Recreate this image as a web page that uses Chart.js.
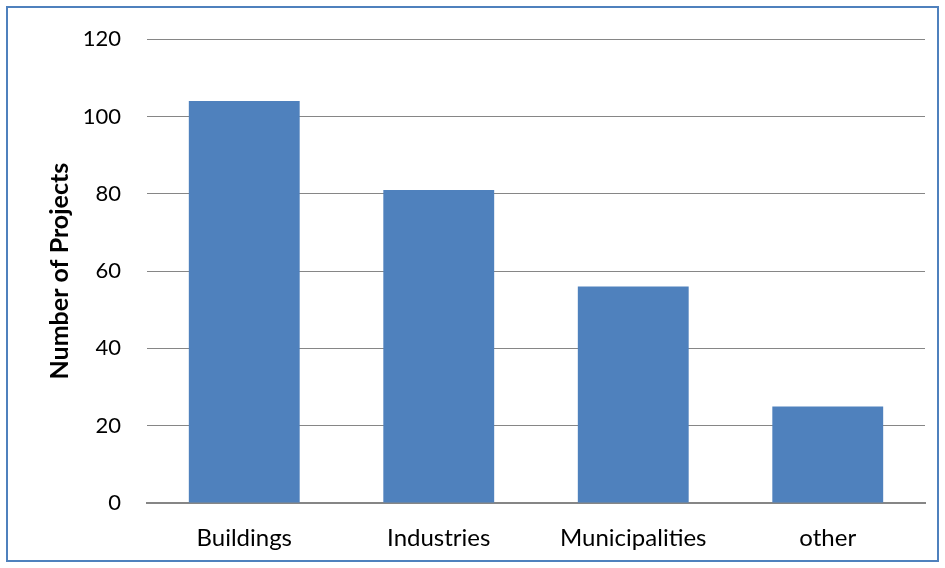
<!DOCTYPE html>
<html>
<head>
<meta charset="utf-8">
<script src="https://cdn.jsdelivr.net/npm/chart.js@4.4.0/dist/chart.umd.min.js"></script>
<style>
  html, body { margin: 0; padding: 0; background: #fff; }
  #wrap { width: 945px; height: 568px; position: relative; }
</style>
</head>
<body>
<div id="wrap"><canvas id="grafico"></canvas></div>
<script>
// sectores y numero de proyectos
const categorias = ['Buildings', 'Industries', 'Municipalities', 'other'];
const proyectos = [104, 81, 56, 25];
const ticksY = [0, 20, 40, 60, 80, 100, 120];

const fuente = 'Lato, Calibri, Carlito, sans-serif';

// fondo blanco y marco azul alrededor del grafico
const marco = {
  id: 'marco',
  beforeDraw(chart) {
    const ctx = chart.ctx;
    ctx.save();
    ctx.fillStyle = '#ffffff';
    ctx.fillRect(0, 0, chart.width, chart.height);
    ctx.restore();
  },
  afterDraw(chart) {
    const ctx = chart.ctx;
    ctx.save();
    ctx.strokeStyle = '#4f81bd';
    ctx.lineWidth = 2;
    ctx.strokeRect(7, 7, 931, 554);
    ctx.restore();
  }
};

const ctx = document.getElementById('grafico').getContext('2d');

new Chart(ctx, {
  type: 'bar',
  data: {
    labels: categorias,
    datasets: [{
      label: 'Number of Projects',
      data: proyectos,
      backgroundColor: '#4f81bd',
      borderWidth: 0,
      barPercentage: 0.57,
      categoryPercentage: 1
    }]
  },
  options: {
    responsive: true,
    maintainAspectRatio: false,
    animation: false,
    layout: {
      padding: { top: 37, right: 20, bottom: 0, left: 0 }
    },
    plugins: {
      legend: { display: false },
      tooltip: { enabled: false }
    },
    scales: {
      x: {
        grid: { display: false, drawTicks: false },
        border: { display: true, color: '#868686', width: 2 },
        ticks: {
          color: '#000',
          padding: 21,
          font: { family: fuente, size: 24 }
        },
        afterFit: (scale) => { scale.height = 65; }
      },
      y: {
        min: 0,
        max: 120,
        afterBuildTicks: (scale) => {
          scale.ticks = ticksY.map(v => ({ value: v }));
        },
        grid: { color: '#868686', lineWidth: 1, drawTicks: false },
        border: { display: false },
        ticks: {
          color: '#000',
          padding: 26,
          font: { family: fuente, size: 22 }
        },
        title: {
          display: true,
          text: 'Number of Projects',
          color: '#000',
          font: { family: fuente, size: 25, weight: 'bold' },
          padding: { top: 45, bottom: 0 }
        },
        afterFit: (scale) => { scale.width = 147; }
      }
    }
  },
  plugins: [marco]
});
</script>
</body>
</html>
